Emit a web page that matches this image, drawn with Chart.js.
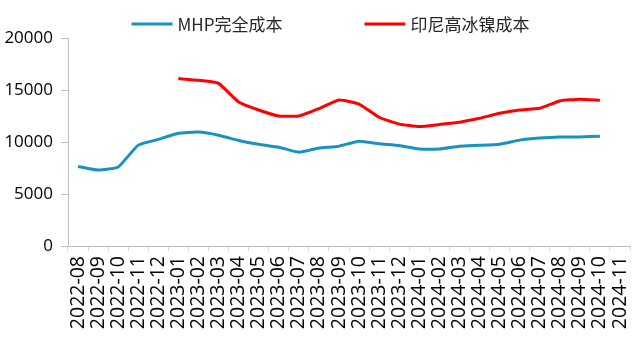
<!DOCTYPE html>
<html>
<head>
<meta charset="utf-8">
<script src="https://cdn.jsdelivr.net/npm/chart.js@4/dist/chart.umd.min.js"></script>
<style>
  html, body { margin: 0; padding: 0; background: #ffffff; }
  #wrap { width: 635px; height: 345px; }
</style>
</head>
<body>
<div id="wrap"><canvas id="c" width="635" height="345"></canvas></div>
<script>
// Monthly categories
const months = [
  '2022-08','2022-09','2022-10','2022-11','2022-12',
  '2023-01','2023-02','2023-03','2023-04','2023-05','2023-06',
  '2023-07','2023-08','2023-09','2023-10','2023-11','2023-12',
  '2024-01','2024-02','2024-03','2024-04','2024-05','2024-06',
  '2024-07','2024-08','2024-09','2024-10','2024-11'
];

// MHP full cost
const mhpCost = [
  7650, 7300, 7600, 9700, 10250,
  10850, 10950, 10650, 10150, 9780, 9500,
  9020, 9420, 9600, 10080, 9830, 9670,
  9330, 9330, 9600, 9680, 9780, 10180,
  10380, 10480, 10480, 10560, null
];

// Indonesian high-grade nickel matte cost
const mattCost = [
  null, null, null, null, null,
  16100, 15930, 15640, 13850, 13080, 12500,
  12500, 13200, 14040, 13650, 12380, 11720,
  11480, 11680, 11900, 12280, 12760, 13080,
  13250, 13950, 14120, 14020, null
];

const seriesNames = ['MHP完全成本', '印尼高冰镍成本'];
const seriesColors = ['#1892C0', '#FF0000'];
const yTicks = [0, 5000, 10000, 15000, 20000];

const axisFont = { family: '"Open Sans", "Liberation Sans", sans-serif', size: 17 };
const xFont = { family: '"Open Sans", "Liberation Sans", sans-serif', size: 19.5 };

// Legend drawn as line swatches followed by the series name
const lineLegend = {
  id: 'lineLegend',
  afterDraw(chart) {
    const ctx = chart.ctx;
    const sw = 41, gapText = 5, gapItem = 82, y = 24;
    ctx.save();
    ctx.font = '17px "Noto Sans CJK SC", sans-serif';
    ctx.textBaseline = 'middle';
    const items = chart.data.datasets.map(d => ({
      label: d.label, color: d.borderColor, w: sw + gapText + ctx.measureText(d.label).width
    }));
    const total = items.reduce((s, it) => s + it.w, 0) + gapItem * (items.length - 1);
    let x = chart.width / 2 + 13 - total / 2;
    items.forEach(it => {
      ctx.fillStyle = it.color;
      ctx.fillRect(x, y - 1.5, sw, 3);
      ctx.fillStyle = '#262626';
      ctx.textAlign = 'left';
      ctx.fillText(it.label, x + sw + gapText, y + 1);
      x += it.w + gapItem;
    });
    ctx.restore();
  }
};

new Chart(document.getElementById('c'), {
  type: 'line',
  data: {
    labels: months,
    datasets: [
      {
        label: seriesNames[0], data: mhpCost,
        borderColor: seriesColors[0], backgroundColor: seriesColors[0],
        borderWidth: 3, pointRadius: 0, tension: 0.15, spanGaps: false
      },
      {
        label: seriesNames[1], data: mattCost,
        borderColor: seriesColors[1], backgroundColor: seriesColors[1],
        borderWidth: 3, pointRadius: 0, tension: 0.15, spanGaps: false
      }
    ]
  },
  options: {
    responsive: false,
    animation: false,
    layout: { padding: { top: 38, right: 5, left: 0, bottom: 0 } },
    plugins: {
      legend: { display: false },
      tooltip: { enabled: false }
    },
    scales: {
      x: {
        type: 'category',
        offset: true,
        grid: {
          offset: true, drawOnChartArea: false, drawTicks: true,
          tickLength: 5, color: '#d9d9d9'
        },
        border: { color: '#bfbfbf', width: 1 },
        ticks: {
          color: '#000000', font: xFont, padding: 5,
          minRotation: 90, maxRotation: 90, autoSkip: false
        },
        afterFit(scale) {
          scale.height = 99;
          scale.paddingLeft = 0;
          scale.paddingRight = 0;
        }
      },
      y: {
        min: 0, max: 20000,
        afterBuildTicks(scale) { scale.ticks = yTicks.map(v => ({ value: v })); },
        grid: {
          drawOnChartArea: false, drawTicks: true,
          tickLength: 7, color: '#bfbfbf'
        },
        border: { color: '#bfbfbf', width: 1 },
        ticks: {
          color: '#000000', font: axisFont, padding: 8,
          callback: v => String(v)
        },
        afterFit(scale) { scale.width = 68; }
      }
    }
  },
  plugins: [lineLegend]
});
</script>
</body>
</html>
